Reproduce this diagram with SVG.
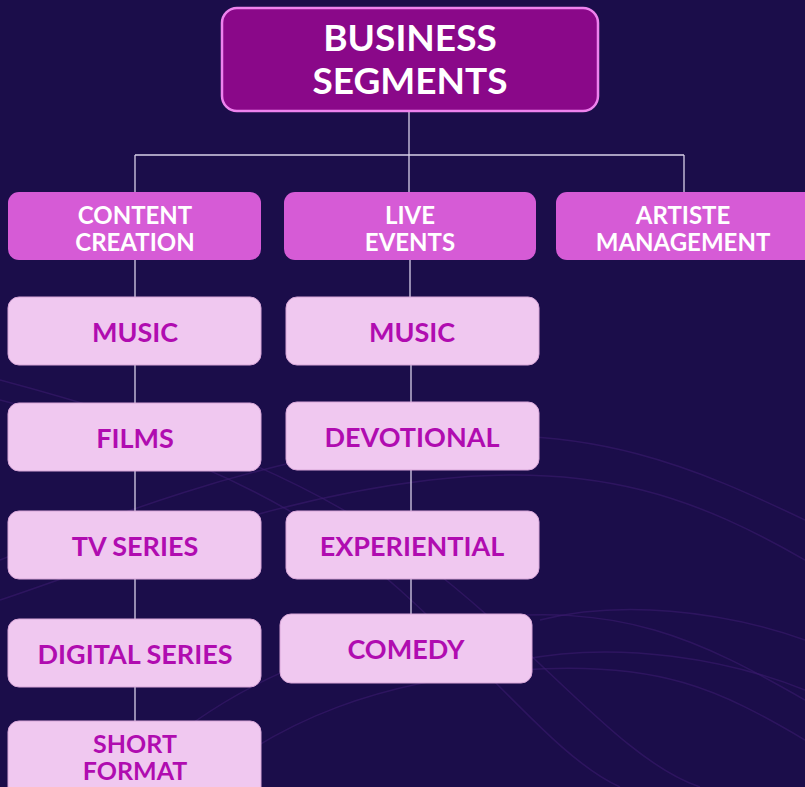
<svg xmlns="http://www.w3.org/2000/svg" width="805" height="787" viewBox="0 0 805 787">
<defs>
<style>
.bg{fill:#1b0d4a}
.wave{fill:none;stroke:#3a1b6e;stroke-width:1.5;opacity:0.6}
.conn{stroke:#d8d0e8;stroke-width:1.3;fill:none}
.top{fill:#8a0889;stroke:#ee82ee;stroke-width:2.5}
.seg{fill:#d65bd6}
.leaf{fill:#f0c8f0;stroke:#d8a6d8;stroke-width:1}
.t{font-family:Lato,"Open Sans","Liberation Sans",sans-serif;font-weight:700;text-anchor:middle}
.tw{fill:#ffffff}
.tm{fill:#b00cb0}
</style>
</defs>
<rect class="bg" x="0" y="0" width="805" height="787"/>
<g id="background-waves">
<path class="wave" d="M0,380 C150,420 300,470 420,560 S620,760 700,787"/>
<path class="wave" d="M0,400 C160,440 300,500 400,590 S560,760 620,787"/>
<path class="wave" d="M0,560 C100,520 250,460 420,440 S700,470 805,520"/>
<path class="wave" d="M0,600 C120,560 260,500 430,480 S700,500 805,560"/>
<path class="wave" d="M120,787 C200,700 320,640 470,620 S700,640 805,700"/>
<path class="wave" d="M200,787 C280,720 380,680 520,670 S720,690 805,740"/>
<path class="wave" d="M540,620 C620,600 720,610 805,640"/>
<path class="wave" d="M520,660 C620,640 730,660 805,690"/>
</g>
<g id="connectors">
<line class="conn" x1="409" y1="111" x2="409" y2="192"/>
<line class="conn" x1="135" y1="155" x2="684" y2="155"/>
<line class="conn" x1="135" y1="155" x2="135" y2="192"/>
<line class="conn" x1="684" y1="155" x2="684" y2="192"/>
<line class="conn" x1="135" y1="260" x2="135" y2="721"/>
<line class="conn" x1="410" y1="260" x2="410" y2="297"/>
<line class="conn" x1="411" y1="365" x2="411" y2="614"/>
</g>
<g id="business-segments">
<rect class="top" x="222" y="8" width="376" height="103" rx="15"/>
<text class="t tw" x="410" y="51" font-size="37">BUSINESS</text>
<text class="t tw" x="410" y="94" font-size="37">SEGMENTS</text>
</g>
<g id="content-creation">
<rect class="seg" x="8" y="192" width="253" height="68" rx="11"/>
<text class="t tw" x="135" y="224" font-size="24">CONTENT</text>
<text class="t tw" x="135" y="251" font-size="24">CREATION</text>
</g>
<g id="live-events">
<rect class="seg" x="284" y="192" width="252" height="68" rx="11"/>
<text class="t tw" x="410" y="224" font-size="24">LIVE</text>
<text class="t tw" x="410" y="251" font-size="24">EVENTS</text>
</g>
<g id="artiste-management">
<rect class="seg" x="556" y="192" width="262" height="68" rx="11"/>
<text class="t tw" x="683" y="224" font-size="24">ARTISTE</text>
<text class="t tw" x="683" y="251" font-size="24">MANAGEMENT</text>
</g>
<g id="cc-music">
<rect class="leaf" x="8" y="297" width="253" height="68" rx="11"/>
<text class="t tm" x="135" y="342" font-size="27">MUSIC</text>
</g>
<g id="cc-films">
<rect class="leaf" x="8" y="403" width="253" height="68" rx="11"/>
<text class="t tm" x="135" y="448" font-size="27">FILMS</text>
</g>
<g id="cc-tv-series">
<rect class="leaf" x="8" y="511" width="253" height="68" rx="11"/>
<text class="t tm" x="135" y="556" font-size="27">TV SERIES</text>
</g>
<g id="cc-digital-series">
<rect class="leaf" x="8" y="619" width="253" height="68" rx="11"/>
<text class="t tm" x="135" y="664" font-size="27">DIGITAL SERIES</text>
</g>
<g id="cc-short-format">
<rect class="leaf" x="8" y="721" width="253" height="80" rx="11"/>
<text class="t tm" x="135" y="753" font-size="25">SHORT</text>
<text class="t tm" x="135" y="780" font-size="25">FORMAT</text>
</g>
<g id="le-music">
<rect class="leaf" x="286" y="297" width="253" height="68" rx="11"/>
<text class="t tm" x="412" y="342" font-size="27">MUSIC</text>
</g>
<g id="le-devotional">
<rect class="leaf" x="286" y="402" width="253" height="68" rx="11"/>
<text class="t tm" x="412" y="447" font-size="27">DEVOTIONAL</text>
</g>
<g id="le-experiential">
<rect class="leaf" x="286" y="511" width="253" height="68" rx="11"/>
<text class="t tm" x="412" y="556" font-size="27">EXPERIENTIAL</text>
</g>
<g id="le-comedy">
<rect class="leaf" x="280" y="614" width="252" height="69" rx="11"/>
<text class="t tm" x="406" y="659" font-size="27">COMEDY</text>
</g>
</svg>
